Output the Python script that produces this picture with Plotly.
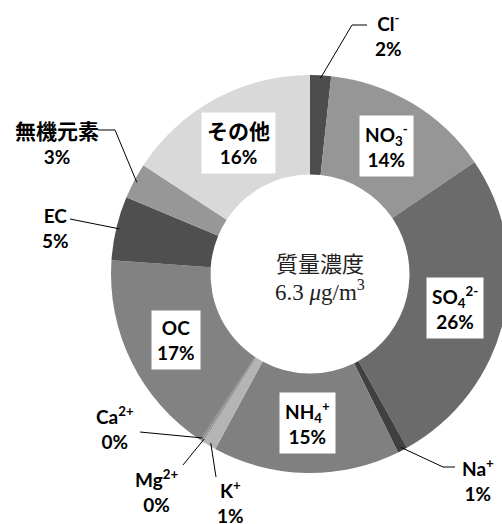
import math
import plotly.graph_objects as go

# ---- data ----
names = ["Cl-", "NO3-", "SO42-", "Na+", "NH4+", "K+", "Mg2+", "Ca2+", "OC", "EC", "無機元素", "その他"]
name_text = ["Cl<sup>-</sup>", "NO<sub>3</sub><sup>-</sup>", "SO<sub>4</sub><sup>2-</sup>", "Na<sup>+</sup>",
             "NH<sub>4</sub><sup>+</sup>", "K<sup>+</sup>", "Mg<sup>2+</sup>", "Ca<sup>2+</sup>",
             "OC", "EC", "<span style='font-size:21px'>無機元素</span>",
             "<span style='font-size:21px'>その他</span>"]
values = [1.7, 13.8, 26.4, 0.8, 15.2, 1.1, 0.15, 0.15, 16.8, 5.2, 2.9, 15.8]
colors = ["#4d4d4d", "#969696", "#6b6b6b", "#404040", "#808080", "#b4b4b4", "#9a9a9a", "#8c8c8c",
          "#828282", "#4f4f4f", "#979797", "#d9d9d9"]
center_title = "質量濃度"
center_value = "6.3 <i>μ</i>g/m<sup>3</sup>"

# ---- layout geometry (pixels) ----
W, H = 512, 524          # page window is 502 wide: the ring is cut at the right like the reference
cx, cy, R = 310, 274, 199
hole = 0.5

total = sum(values)
pct = [f"{round(v / total * 100)}%" for v in values]


def px2paper(x, y):
    return x / W, 1 - y / H


def mid_point(i, r):
    before = sum(values[:i])
    ang = math.radians((before + values[i] / 2) / total * 360)
    return cx + r * math.sin(ang), cy - r * math.cos(ang)


fig = go.Figure(go.Pie(
    labels=names, values=values, sort=False, direction="clockwise", rotation=0,
    hole=hole, marker=dict(colors=colors, line=dict(width=0)),
    textinfo="none", hoverinfo="label+percent", showlegend=False,
    domain=dict(x=[(cx - R) / W, (cx + R) / W], y=[(H - cy - R) / H, (H - cy + R) / H]),
))

FONT = "Lato, 'Noto Sans CJK JP', sans-serif"
FS = 19
annotations = []
shapes = []

# boxed labels inside the ring
inside = [1, 2, 4, 8, 11]
for i in inside:
    x, y = mid_point(i, R * (1 + hole) / 2)
    px, py = px2paper(x, y)
    annotations.append(dict(
        x=px, y=py, xref="paper", yref="paper", showarrow=False,
        xanchor="center", yanchor="middle",
        text=f"<b>{name_text[i]}<br>{pct[i]}</b>", align="center",
        font=dict(family=FONT, size=FS, color="black"),
        bgcolor="white", borderpad=5,
    ))

# outside labels with leader lines: (index, label center px, path points after slice edge)
outside = {
    0: ((388, 35), [(352, 25), (367, 25)]),
    3: ((478, 480), [(443, 467), (455, 467)]),
    5: ((230, 502), [(216, 477)]),
    6: ((156, 491), [(183, 465)]),
    7: ((115, 428), [(140, 432)]),
    9: ((55, 228), [(70, 219)]),
    10: ((57, 143), [(115, 130), (98, 130)]),
}
for i, ((lx, ly), pts) in outside.items():
    ex, ey = mid_point(i, R - 3)
    path_pts = [(ex, ey)] + pts
    d = ""
    for k, (x, y) in enumerate(path_pts):
        pxp, pyp = px2paper(x, y)
        d += ("M" if k == 0 else " L") + f" {pxp:.5f},{pyp:.5f}"
    shapes.append(dict(type="path", path=d, xref="paper", yref="paper",
                       line=dict(color="black", width=1)))
    px, py = px2paper(lx, ly)
    annotations.append(dict(
        x=px, y=py, xref="paper", yref="paper", showarrow=False,
        xanchor="center", yanchor="middle",
        text=f"<b>{name_text[i]}<br>{pct[i]}</b>", align="center",
        font=dict(family=FONT, size=FS, color="black"),
    ))

# centre text
tx, ty = px2paper(320, 262)
annotations.append(dict(x=tx, y=ty, xref="paper", yref="paper", showarrow=False,
                        xanchor="center", yanchor="middle",
                        text=center_title,
                        font=dict(family="'Noto Sans CJK JP', sans-serif", size=22, color="#222")))
tx, ty = px2paper(320, 290)
annotations.append(dict(x=tx, y=ty, xref="paper", yref="paper", showarrow=False,
                        xanchor="center", yanchor="middle",
                        text=center_value,
                        font=dict(family="'Liberation Serif', serif", size=23, color="#222")))

fig.update_layout(
    width=W, height=H, margin=dict(l=0, r=0, t=0, b=0),
    paper_bgcolor="white", plot_bgcolor="white",
    annotations=annotations, shapes=shapes,
)

fig.write_html(
    "out.html",
    config={"displayModeBar": False},
    post_script="document.body.style.margin='0';document.body.style.overflow='hidden';"
                "document.documentElement.style.overflow='hidden';",
)
